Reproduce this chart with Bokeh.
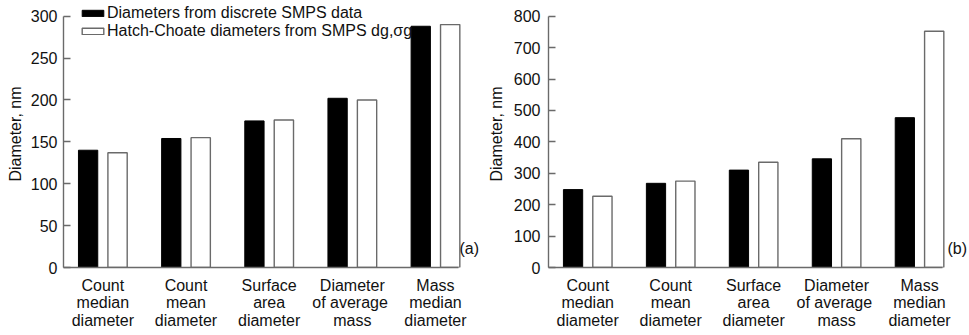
from bokeh.plotting import figure
from bokeh.layouts import row
from bokeh.models import ColumnDataSource, Legend, LegendItem, Label, FixedTicker, Range1d
from bokeh.embed import file_html
from bokeh.resources import INLINE

categories = ["Count\nmedian\ndiameter", "Count\nmean\ndiameter", "Surface\narea\ndiameter",
              "Diameter\nof  average\nmass", "Mass\nmedian\ndiameter"]
series_names = ["Diameters from discrete SMPS data",
                "Hatch-Choate diameters from SMPS dg,\u03c3g"]
a_discrete = [140, 154, 175, 202, 288]
a_hatch = [137, 155, 176, 200, 290]
b_discrete = [248, 268, 310, 346, 477]
b_hatch = [227, 275, 335, 410, 752]
a_yticks = [0, 50, 100, 150, 200, 250, 300]
b_yticks = [0, 100, 200, 300, 400, 500, 600, 700, 800]

FONT = "Liberation Sans"
FS = "16px"
TXT = "#111111"
GRAY = "#6a6a6a"
OFF = 0.177
BW = 0.232
X0, X1 = -0.473, 4.277      # extent of the drawn x axis
AXIS_H = 251.3              # pixel height from 0 to top tick
FRAME_H = 267               # frame reaches to the top of the canvas


def make_panel(disc, hatch, yticks, tag, tag_offset, left_border, fig_w, axis_w,
               label_standoff, axis_label_standoff, with_legend):
    idx = list(range(len(categories)))
    frame_w = fig_w - left_border
    px_per_unit = axis_w / (X1 - X0)
    x_end = X0 + frame_w / px_per_unit
    y_end = yticks[-1] * FRAME_H / AXIS_H
    src = ColumnDataSource(dict(
        xd=[i - OFF for i in idx], xh=[i + OFF for i in idx], disc=disc, hatch=hatch))
    p = figure(width=fig_w, height=335,
               frame_width=frame_w, frame_height=FRAME_H,
               min_border_left=left_border, min_border_right=0,
               min_border_top=0, min_border_bottom=335 - FRAME_H,
               x_range=Range1d(X0, x_end), y_range=Range1d(0, y_end),
               output_backend="svg", toolbar_location=None)
    r1 = p.vbar(x="xd", top="disc", width=BW, source=src, fill_color="black", line_color="black", line_width=1)
    r2 = p.vbar(x="xh", top="hatch", width=BW, source=src, fill_color="white", line_color=GRAY, line_width=1.4)
    p.outline_line_color = None
    p.grid.visible = False
    p.background_fill_color = "white"
    p.border_fill_color = "white"

    xa = p.xaxis[0]
    xa.bounds = (X0, X1)
    xa.ticker = FixedTicker(ticks=idx)
    xa.major_label_overrides = {i: c for i, c in zip(idx, categories)}
    xa.major_tick_in = 0
    xa.major_tick_out = 0
    xa.minor_tick_in = 0
    xa.minor_tick_out = 0
    xa.axis_line_color = GRAY
    xa.axis_line_width = 1.4
    xa.major_label_text_font = FONT
    xa.major_label_text_font_size = FS
    xa.major_label_text_color = TXT
    xa.major_label_text_line_height = 1.05
    xa.major_label_standoff = 9

    ya = p.yaxis[0]
    ya.bounds = (0, yticks[-1])
    ya.ticker = FixedTicker(ticks=yticks)
    ya.major_tick_in = 7
    ya.major_tick_out = 0
    ya.minor_tick_in = 0
    ya.minor_tick_out = 0
    ya.axis_line_color = GRAY
    ya.axis_line_width = 1.4
    ya.major_tick_line_color = GRAY
    ya.major_tick_line_width = 1.4
    ya.major_label_text_font = FONT
    ya.major_label_text_font_size = FS
    ya.major_label_text_color = TXT
    ya.major_label_standoff = label_standoff
    ya.axis_label = "Diameter, nm"
    ya.axis_label_text_font = FONT
    ya.axis_label_text_font_size = FS
    ya.axis_label_text_font_style = "normal"
    ya.axis_label_text_color = TXT
    ya.axis_label_standoff = axis_label_standoff

    p.add_layout(Label(x=X1, x_units="data", x_offset=tag_offset, y=19, y_units="screen",
                       text=tag, text_font=FONT, text_font_size=FS, text_color=TXT,
                       text_baseline="middle", text_align="left"))

    if with_legend:
        leg = Legend(items=[LegendItem(label=series_names[0], renderers=[r1]),
                            LegendItem(label=series_names[1], renderers=[r2])],
                     location=(16, 227), padding=0, margin=0, spacing=0,
                     glyph_width=27, glyph_height=8, label_height=18, label_standoff=1,
                     label_text_font=FONT, label_text_font_size=FS, label_text_color=TXT,
                     border_line_alpha=0, background_fill_alpha=0)
        p.add_layout(leg, "center")
    return p


pa = make_panel(a_discrete, a_hatch, a_yticks, "(a)", 1, 63, 480, 395, 6, 4, True)
pb = make_panel(b_discrete, b_hatch, b_yticks, "(b)", 5, 68, 489, 394, 8, 6, False)

layout = row(pa, pb, spacing=0)
open("out.html", "w").write(file_html(layout, INLINE))
